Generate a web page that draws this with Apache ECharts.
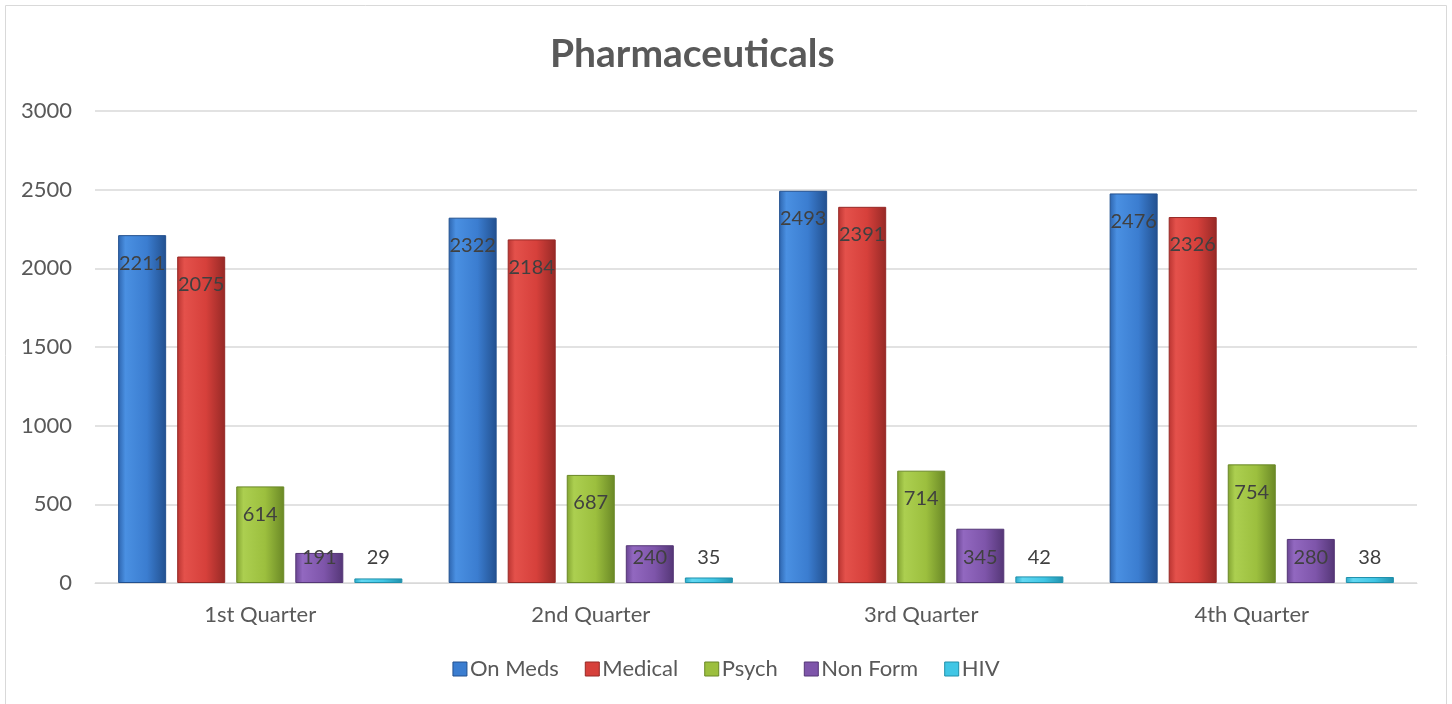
<!DOCTYPE html>
<html><head><meta charset="utf-8">
<script src="https://cdn.jsdelivr.net/npm/echarts@6/dist/echarts.min.js"></script>
<style>html,body{margin:0;padding:0;background:#fff}#c{width:1452px;height:704px}</style>
</head><body><div id="c"></div>
<script>
const categories = ['1st Quarter','2nd Quarter','3rd Quarter','4th Quarter'];
const seriesNames = ['On Meds','Medical','Psych','Non Form','HIV'];
const onMeds = [2211, 2322, 2493, 2476];
const medical = [2075, 2184, 2391, 2326];
const psych = [614, 687, 714, 754];
const nonForm = [191, 240, 345, 280];
const hiv = [29, 35, 42, 38];
const yTicks = [0, 500, 1000, 1500, 2000, 2500, 3000];

const palette = [
  ['#4a90e2','#3b7dd0','#2d64ad','#22508f'],
  ['#e4514b','#d6403b','#b93431','#962926'],
  ['#accf50','#9cbf3e','#82a331','#6a8826'],
  ['#9268c0','#7e55aa','#684491','#543676'],
  ['#62d8f2','#40c6e5','#2baaca','#2090ab']
];
const values = [onMeds, medical, psych, nonForm, hiv];
const font = 'Lato, "Open Sans", sans-serif';

function grad(c){
  return new echarts.graphic.LinearGradient(0,0,1,0,[
    {offset:0,color:c[2]},{offset:0.15,color:c[0]},{offset:0.6,color:c[1]},{offset:1,color:c[3]}
  ]);
}

const series = seriesNames.map((n,i)=>({
  name:n, type:'bar', data: values[i],
  barGap:'23%', barCategoryGap:'14%',
  itemStyle:{color:grad(palette[i]), borderColor:palette[i][3], borderWidth:1},
  label:{show:true, color:'#404040', fontSize:20, fontFamily:font,
    position: i<3 ? 'insideTop' : 'insideBottom',
    distance: i<3 ? 18 : 15}
}));

const chart = echarts.init(document.getElementById('c'));
chart.setOption({
  animation:false,
  title:{text:'Pharmaceuticals', left:545, top:30, textStyle:{fontSize:39, fontWeight:'bold', color:'#595959', fontFamily:font}},
  legend:{data: seriesNames.map((n,i)=>({name:n, itemStyle:{color:palette[i][1], borderColor:palette[i][3], borderWidth:1}})),
    top:653, left:'center', itemWidth:14, itemHeight:14, itemGap:26, icon:'rect',
    textStyle:{fontSize:22, color:'#595959', fontFamily:font, padding:[0,0,0,-2]}},
  grid:{left:95, right:35, top:111, bottom:121},
  xAxis:{type:'category', data:categories,
    axisLine:{lineStyle:{color:'#d9d9d9', width:1}}, axisTick:{show:false},
    axisLabel:{fontSize:22, color:'#595959', fontFamily:font, margin:21}},
  yAxis:{type:'value', min:yTicks[0], max:yTicks[yTicks.length-1], interval:500,
    axisLine:{show:false}, axisTick:{show:false},
    splitLine:{lineStyle:{color:'#d9d9d9', width:1.5}},
    axisLabel:{fontSize:22, color:'#595959', fontFamily:font, margin:23, formatter:v=>String(v)}},
  graphic:[{type:'rect', shape:{x:5.5,y:5.5,width:1441,height:710}, style:{fill:'none', stroke:'#d9d9d9', lineWidth:1}, silent:true}],
  series
});
</script></body></html>
